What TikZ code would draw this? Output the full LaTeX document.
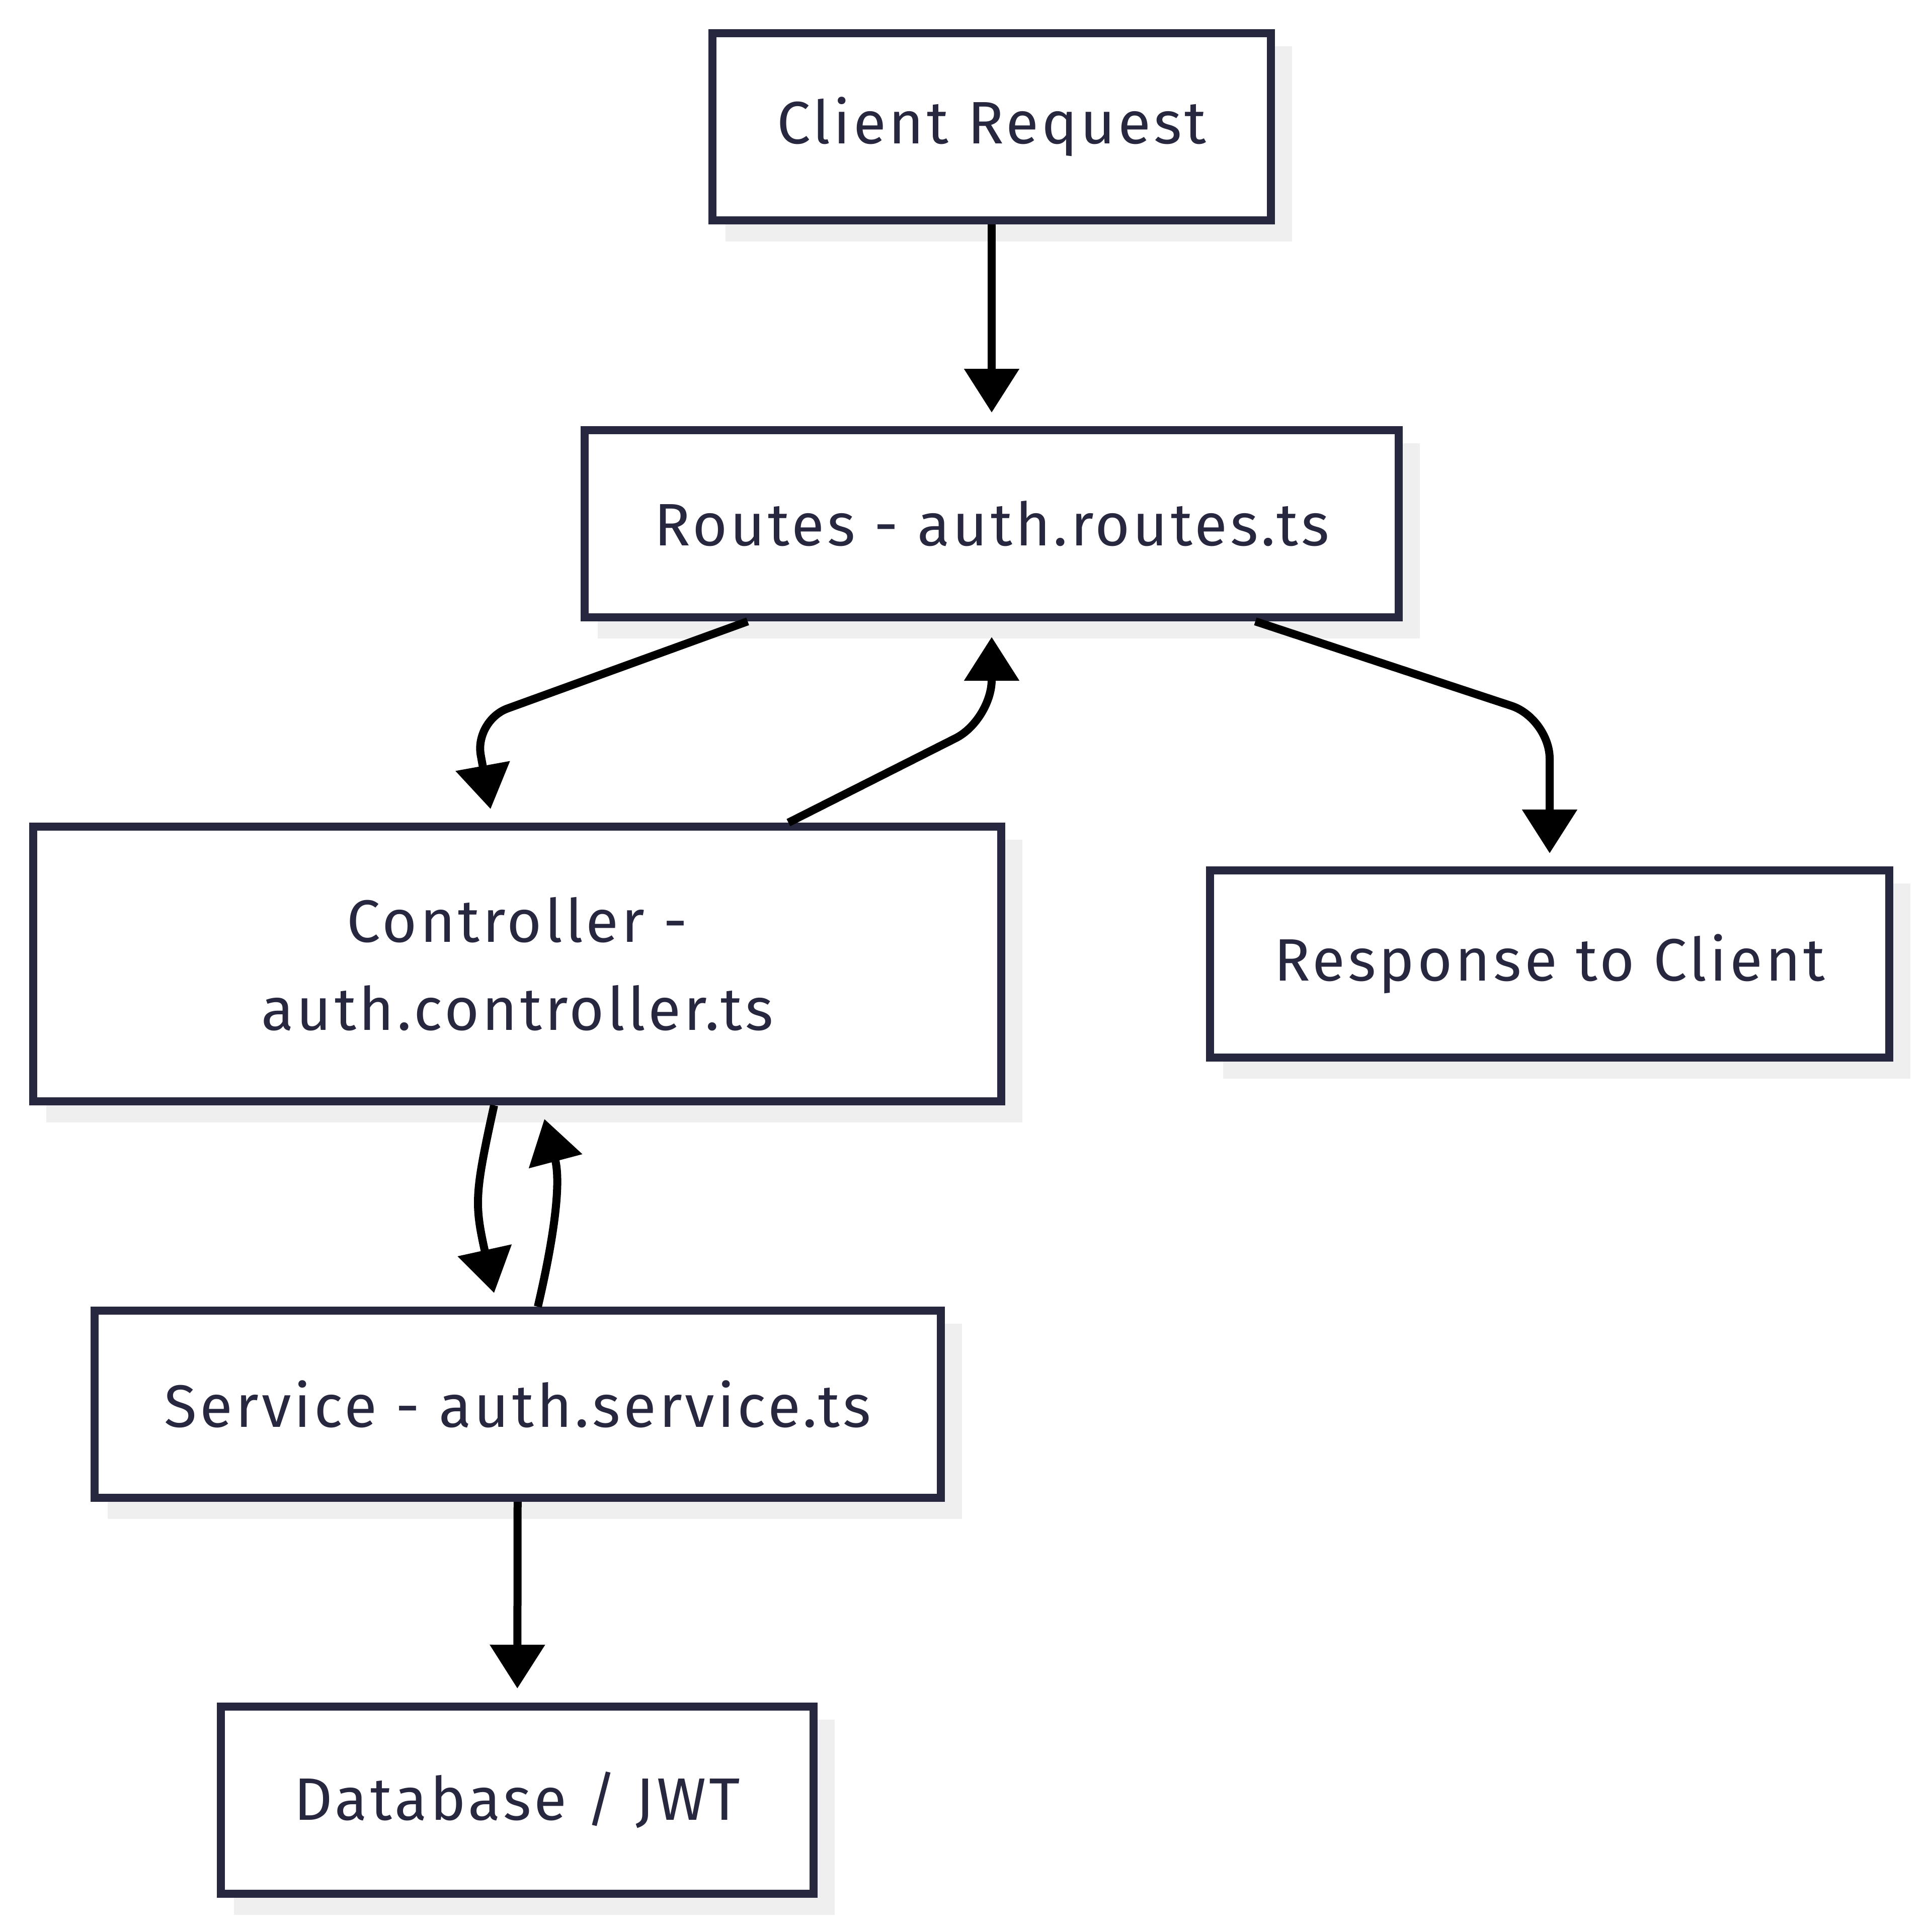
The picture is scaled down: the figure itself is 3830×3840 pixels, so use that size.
\documentclass[tikz,border=0pt]{standalone}
\usepackage{fontspec}
\setmainfont{Fira Sans}[LetterSpace=5]
\usetikzlibrary{arrows.meta,backgrounds}
\definecolor{ink}{HTML}{27273F}
\definecolor{shade}{HTML}{EFEFEF}
\begin{document}
\begin{tikzpicture}[x=0.1pt,y=-0.1pt,
  box/.style={draw=ink, line width=1.6pt, fill=white, text=ink, inner sep=0pt,
    outer sep=0.8pt, minimum height=37.2pt, align=center,
    font=\fontsize{11.9pt}{17.5pt}\selectfont},
  conn/.style={draw=black, line width=1.6pt, -{Triangle[length=8.7pt,width=10.6pt]}},
  shadowbox/.style={fill=shade}
]
\useasboundingbox (0,0) rectangle (3830,3840);

\node[box, minimum width=111pt] (client) at (1971,252) {Client Request};
\node[box, minimum width=161.8pt] (routes) at (1971,1041) {Routes - auth.routes.ts};
\node[box, minimum width=192.4pt, minimum height=54.6pt] (ctrl) at (1028,1916) {Controller -\\auth.controller.ts};
\node[box, minimum width=135.1pt] (resp) at (3080,1916) {Response to Client};
\node[box, minimum width=168.2pt] (serv) at (1029,2791) {Service - auth.service.ts};
\node[box, minimum width=117.9pt] (db) at (1028,3578) {Database / JWT};

\begin{scope}[on background layer]
  \fill[white] (0,0) rectangle (3830,3840);
  \foreach \n in {client,routes,ctrl,resp,serv,db}
    \fill[shadowbox] ([shift={(34,34)}]\n.north west) rectangle ([shift={(34,34)}]\n.south east);
\end{scope}

\draw[conn, shorten >=2.7pt] (client) -- (routes);
\draw[conn, rounded corners=7pt] ([xshift=-48.5pt]routes.south) -- (943,1432) -- ([xshift=-5.3pt,yshift=2.7pt]ctrl.north);
\draw[conn, rounded corners=8pt] ([xshift=53.9pt]ctrl.north) -- (1971,1431) -- ([yshift=-3.1pt]routes.south);
\draw[conn, rounded corners=8pt] ([xshift=52.4pt]routes.south) -- (3080,1428) -- ([yshift=2.6pt]resp.north);
\draw[conn] ([xshift=-4.6pt]ctrl.south) .. controls (943,2374) and (943,2393) .. ([xshift=-4.7pt,yshift=2.7pt]serv.north);
\draw[conn] ([xshift=4pt]serv.north) .. controls (1115,2400) and (1110,2330) .. ([xshift=5.4pt,yshift=-2.7pt]ctrl.south);
\draw[conn, shorten >=2.8pt] (serv) -- (db);
\end{tikzpicture}
\end{document}
